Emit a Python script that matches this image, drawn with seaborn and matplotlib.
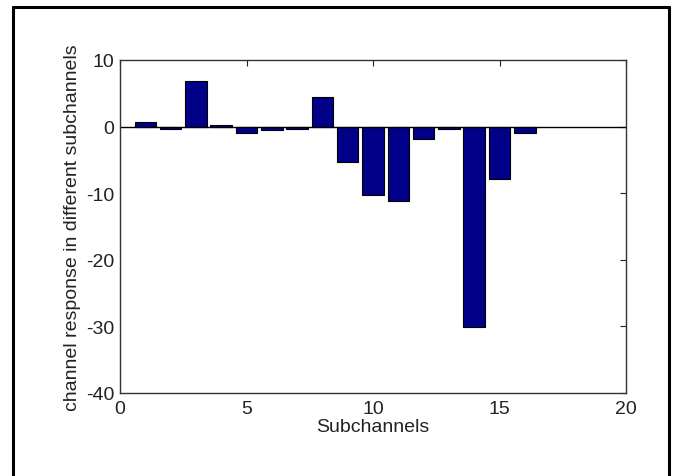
import numpy as np
import pandas as pd
import matplotlib
matplotlib.use("Agg")
import matplotlib.pyplot as plt
import seaborn as sns
from matplotlib.lines import Line2D

# bar heights
subchannels = list(range(1, 17))
response = [0.75, -0.3, 6.85, 0.25, -1.0, -0.55, -0.35, 4.4,
            -5.3, -10.25, -11.2, -1.9, -0.35, -30.05, -7.8, -1.0]
x_ticks = [0, 5, 10, 15, 20]
y_ticks = [-40, -30, -20, -10, 0, 10]

data = pd.DataFrame({"Subchannels": subchannels, "response": response})

sns.set_style("white")
plt.rcParams["font.family"] = ["Liberation Sans", "DejaVu Sans"]
plt.rcParams["axes.unicode_minus"] = False

fig = plt.figure(figsize=(6.74, 4.77), dpi=100)
ax = fig.add_axes([120 / 674, 83 / 477, 506 / 674, 333 / 477])

sns.barplot(data=data, x="Subchannels", y="response", native_scale=True,
            width=0.85, color="#000088", saturation=1, edgecolor="black",
            linewidth=0.8, ax=ax)

# baseline like matlab
ax.axhline(0, color="black", linewidth=1.0)

ax.set_xlim(0, 20)
ax.set_ylim(-40, 10)
ax.set_xticks(x_ticks)
ax.set_yticks(y_ticks)
ax.tick_params(direction="in", top=True, right=True, length=4, width=0.8,
               labelsize=14, colors="#222222")
ax.tick_params(axis="x", pad=5)
ax.tick_params(axis="y", pad=4)
for s in ax.spines.values():
    s.set_color("#333333")
    s.set_linewidth(1.0)

ax.set_xlabel("Subchannels", fontsize=14, color="#222222", labelpad=1)
ax.set_ylabel("channel response in different subchannels", fontsize=14,
              color="#222222", labelpad=4)

# outer frame around the figure (bottom edge is cut off)
x0, x1 = 13 / 674, 669 / 674
y1 = 1 - 7.5 / 477
for xs, ys in [([x0, x0], [0, y1]), ([x0, x1], [y1, y1]), ([x1, x1], [y1, 0])]:
    fig.add_artist(Line2D(xs, ys, color="black", linewidth=2.2,
                          transform=fig.transFigure))

fig.savefig("out.png", dpi=100)
